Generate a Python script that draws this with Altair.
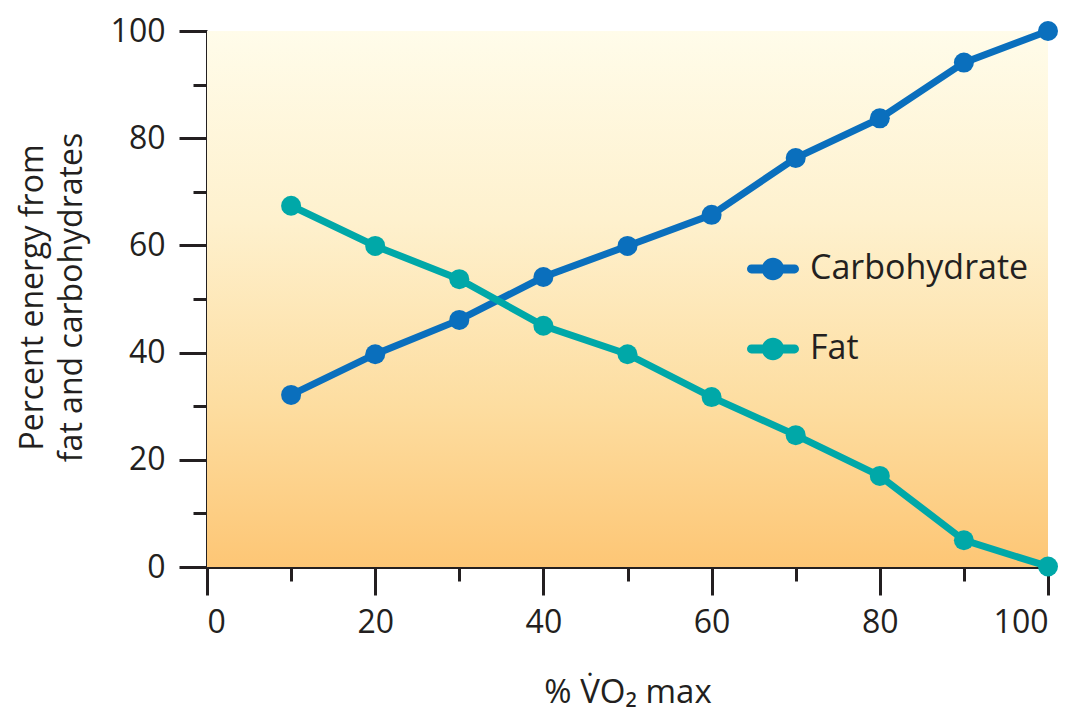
import altair as alt
import pandas as pd

x_vals = [10, 20, 30, 40, 50, 60, 70, 80, 90, 100]
carbohydrate = [32.1, 39.7, 46.1, 54.1, 59.9, 65.7, 76.3, 83.7, 94.1, 100]
fat = [67.4, 59.9, 53.7, 45.0, 39.7, 31.7, 24.6, 17.0, 5.0, 0.1]
series_names = ["Carbohydrate", "Fat"]
series_colors = ["#0A6FBD", "#00A8A8"]
tick_values = [0, 10, 20, 30, 40, 50, 60, 70, 80, 90, 100]

rows = []
for xv, c, f in zip(x_vals, carbohydrate, fat):
    rows.append({"x": xv, "y": c, "series": "Carbohydrate"})
    rows.append({"x": xv, "y": f, "series": "Fat"})
df = pd.DataFrame(rows)
bg = pd.DataFrame([{"x0": 0, "x1": 100, "y0": 0, "y1": 100}])

FONT = "Open Sans"
INK = "#231F20"

xscale = alt.Scale(domain=[0, 100], nice=False, zero=False)
yscale = alt.Scale(domain=[0, 100], nice=False, zero=False)

tick_cond = {"condition": {"test": "datum.value % 20 === 0", "value": 28}, "value": 14}

xaxis = alt.Axis(
    values=tick_values,
    labelExpr="datum.value % 20 === 0 ? datum.label : ''",
    tickSize=tick_cond,
    tickWidth=3, domainWidth=3, tickColor=INK, domainColor=INK,
    labelFont=FONT, labelFontSize=32, labelColor=INK, labelPadding=12,
    grid=False, title="% V\u0307O\u2082 max", titleFont=FONT, titleFontSize=33,
    titleFontWeight="normal", titleColor=INK, titleY=135, titleBaseline="alphabetic",
)
yaxis = alt.Axis(
    values=tick_values,
    labelExpr="datum.value % 20 === 0 ? datum.label : ''",
    tickSize=tick_cond,
    tickWidth=3, domainWidth=3, tickColor=INK, domainColor=INK,
    labelFont=FONT, labelFontSize=32, labelColor=INK, labelPadding=14,
    grid=False, title=["Percent energy from", "fat and carbohydrates"],
    titleFont=FONT, titleFontSize=32, titleFontWeight="normal", titleColor=INK,
    titleAngle=270, titleX=-165, titleY=266, titleAlign="center",
    titleBaseline="alphabetic", titleLineHeight=39,
)

background = alt.Chart(bg).mark_rect(
    fill=alt.Gradient(
        gradient="linear",
        stops=[
            alt.GradientStop(color="#FFFCEA", offset=0),
            alt.GradientStop(color="#FEF1CE", offset=0.35),
            alt.GradientStop(color="#FDDDA0", offset=0.7),
            alt.GradientStop(color="#FDC675", offset=1),
        ],
        x1=0, x2=0, y1=0, y2=1,
    )
).encode(
    x=alt.X("x0:Q", scale=xscale, axis=xaxis),
    x2="x1:Q",
    y=alt.Y("y0:Q", scale=yscale, axis=yaxis),
    y2="y1:Q",
)

color = alt.Color(
    "series:N",
    scale=alt.Scale(domain=series_names, range=series_colors),
    legend=alt.Legend(
        title=None, orient="none", legendX=540, legendY=212,
        symbolType="M-0.83,-0.17 L0.83,-0.17 A0.17,0.17 0 0,1 0.83,0.17 L-0.83,0.17 A0.17,0.17 0 0,1 -0.83,-0.17 Z M0.43,0 A0.43,0.43 0 1,1 -0.43,0 A0.43,0.43 0 1,1 0.43,0 Z",
        symbolSize=2704, symbolStrokeWidth=0, symbolOpacity=1,
        labelFont=FONT, labelFontSize=34, labelColor=INK, labelOffset=11,
        rowPadding=37, labelLimit=400,
    ),
)

lines = alt.Chart(df).mark_line(strokeWidth=7).encode(
    x=alt.X("x:Q", scale=xscale),
    y=alt.Y("y:Q", scale=yscale),
    color=color,
)
points = alt.Chart(df).mark_point(filled=True, size=400, opacity=1).encode(
    x=alt.X("x:Q", scale=xscale),
    y=alt.Y("y:Q", scale=yscale),
    color=color,
)

chart = alt.layer(background, lines, points).properties(
    width=841, height=536,
    autosize=alt.AutoSizeParams(type="none"),
    padding={"left": 199, "top": 23, "right": 33, "bottom": 150},
).configure_view(stroke=None)

chart.save("out.html", embed_options={"renderer": "svg", "actions": False})
